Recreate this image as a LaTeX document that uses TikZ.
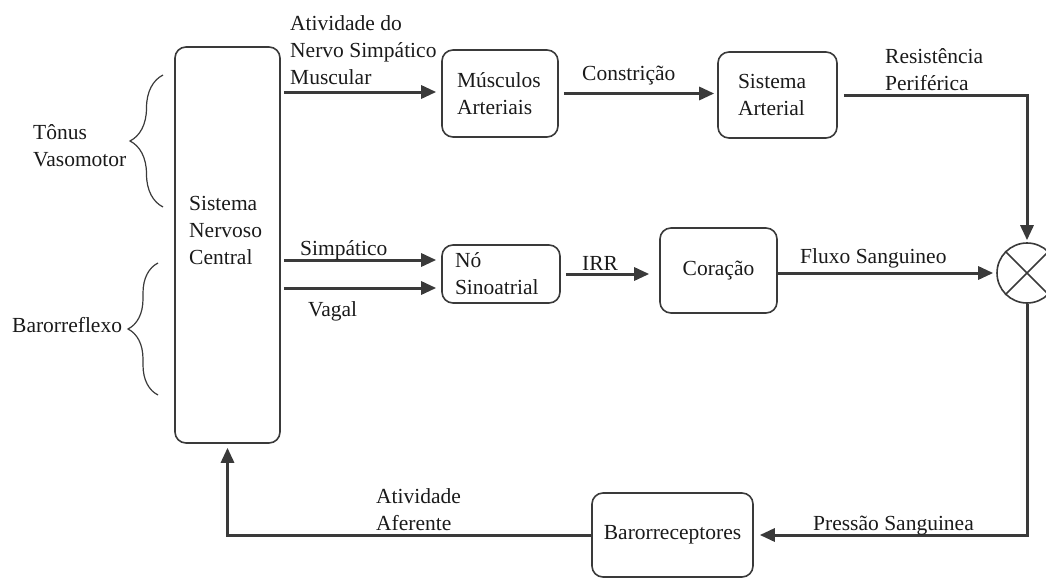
\documentclass[tikz,border=0pt]{standalone}
\usepackage{fontspec}
\setmainfont{Liberation Serif}
\usetikzlibrary{arrows.meta,decorations.pathreplacing,calc}
\definecolor{ln}{HTML}{3A3A3A}
\definecolor{tx}{HTML}{1A1A1A}
\begin{document}
\begin{tikzpicture}[x=1pt,y=-1pt, font=\fontsize{21.5}{27}\selectfont,
  box/.style={draw=ln, line width=1.6pt, rounded corners=11pt, inner sep=0pt, text=tx},
  arr/.style={draw=ln, line width=3pt, -{Triangle[length=15pt,width=13pt]}},
  lbl/.style={inner sep=0pt, text=tx, align=left},
  brc/.style={draw=ln, line width=1.2pt, decorate}]
\useasboundingbox (0,0) rectangle (1046,578);

% blocks
\node[box, minimum width=105pt, minimum height=396pt] (snc) at (227.5,245) {};
\node[lbl, anchor=west] (snct) at (189,230) {Sistema\\Nervoso\\Central};
\node[box, minimum height=87pt, inner xsep=15pt, text width=86pt, align=left] (mus) at (500,93.5) {Músculos\\Arteriais};
\node[box, minimum height=86pt, inner xsep=20pt, text width=79pt, align=left] (art) at (777.5,95) {Sistema\\Arterial};
\node[box, minimum height=58pt, inner xsep=13pt, text width=92pt, align=left] (sino) at (501,274) {Nó\\Sinoatrial};
\node[box, minimum width=117pt, minimum height=85pt] (cor) at (718.5,270.5) {Coração};
\node[box, minimum width=161pt, minimum height=84pt] (baro) at (672.5,535) {Barorreceptores};
\node[draw=ln, line width=1.6pt, circle, minimum size=60pt, inner sep=0pt] (sum) at (1027,273) {};
\draw[ln, line width=1.6pt] (sum.north west) -- (sum.south east) (sum.north east) -- (sum.south west);

% connector start points on the right side of the central block
\coordinate (o1) at ($(snc.east)+(3,-153)$);
\coordinate (o2) at ($(snc.east)+(3,15)$);
\coordinate (o3) at ($(snc.east)+(3,43)$);

% connectors
\draw[arr, shorten >=5pt] (o1) -- (o1 -| mus.west);
\draw[arr, shorten <=5pt, shorten >=3pt] (mus.east) -- (mus.east -| art.west);
\draw[arr, shorten <=6pt, shorten >=2pt] (art.east) -| (sum.north);
\draw[arr, shorten >=5pt] (o2) -- (o2 -| sino.west);
\draw[arr, shorten >=5pt] (o3) -- (o3 -| sino.west);
\draw[arr, shorten <=5pt, shorten >=10pt] (sino.east) -- (sino.east -| cor.west);
\draw[arr, shorten >=3pt] (cor.east |- sum.west) -- (sum.west);
\draw[arr, shorten >=6pt] (sum.south) |- (baro.east);
\draw[arr, shorten >=4pt] (baro.west) -| (snc.south);

% braces
\draw[brc, decoration={brace, amplitude=33pt}] (163,207) -- (163,75);
\draw[brc, decoration={brace, amplitude=30pt}] (158,395) -- (158,263);

% labels
\node[lbl, anchor=west] (tv) at (33,146) {Tônus\\Vasomotor};
\node[lbl, anchor=base west] (bar) at (12,332) {Barorreflexo};
\node[lbl, anchor=west] (ans) at (290,50) {Atividade do\\Nervo Simpático\\Muscular};
\node[lbl, anchor=base west] (con) at (582,80) {Constrição};
\node[lbl, anchor=west] (res) at (885,70) {Resistência\\Periférica};
\node[lbl, anchor=base west] (sim) at (300,255) {Simpático};
\node[lbl, anchor=base west] (vag) at (308,316) {Vagal};
\node[lbl, anchor=base west] (irr) at (582,270) {IRR};
\node[lbl, anchor=base west] (flu) at (800,263) {Fluxo Sanguineo};
\node[lbl, anchor=west] (aa) at (376,510) {Atividade\\Aferente};
\node[lbl, anchor=base west] (pre) at (813,530) {Pressão Sanguinea};
\end{tikzpicture}
\end{document}
